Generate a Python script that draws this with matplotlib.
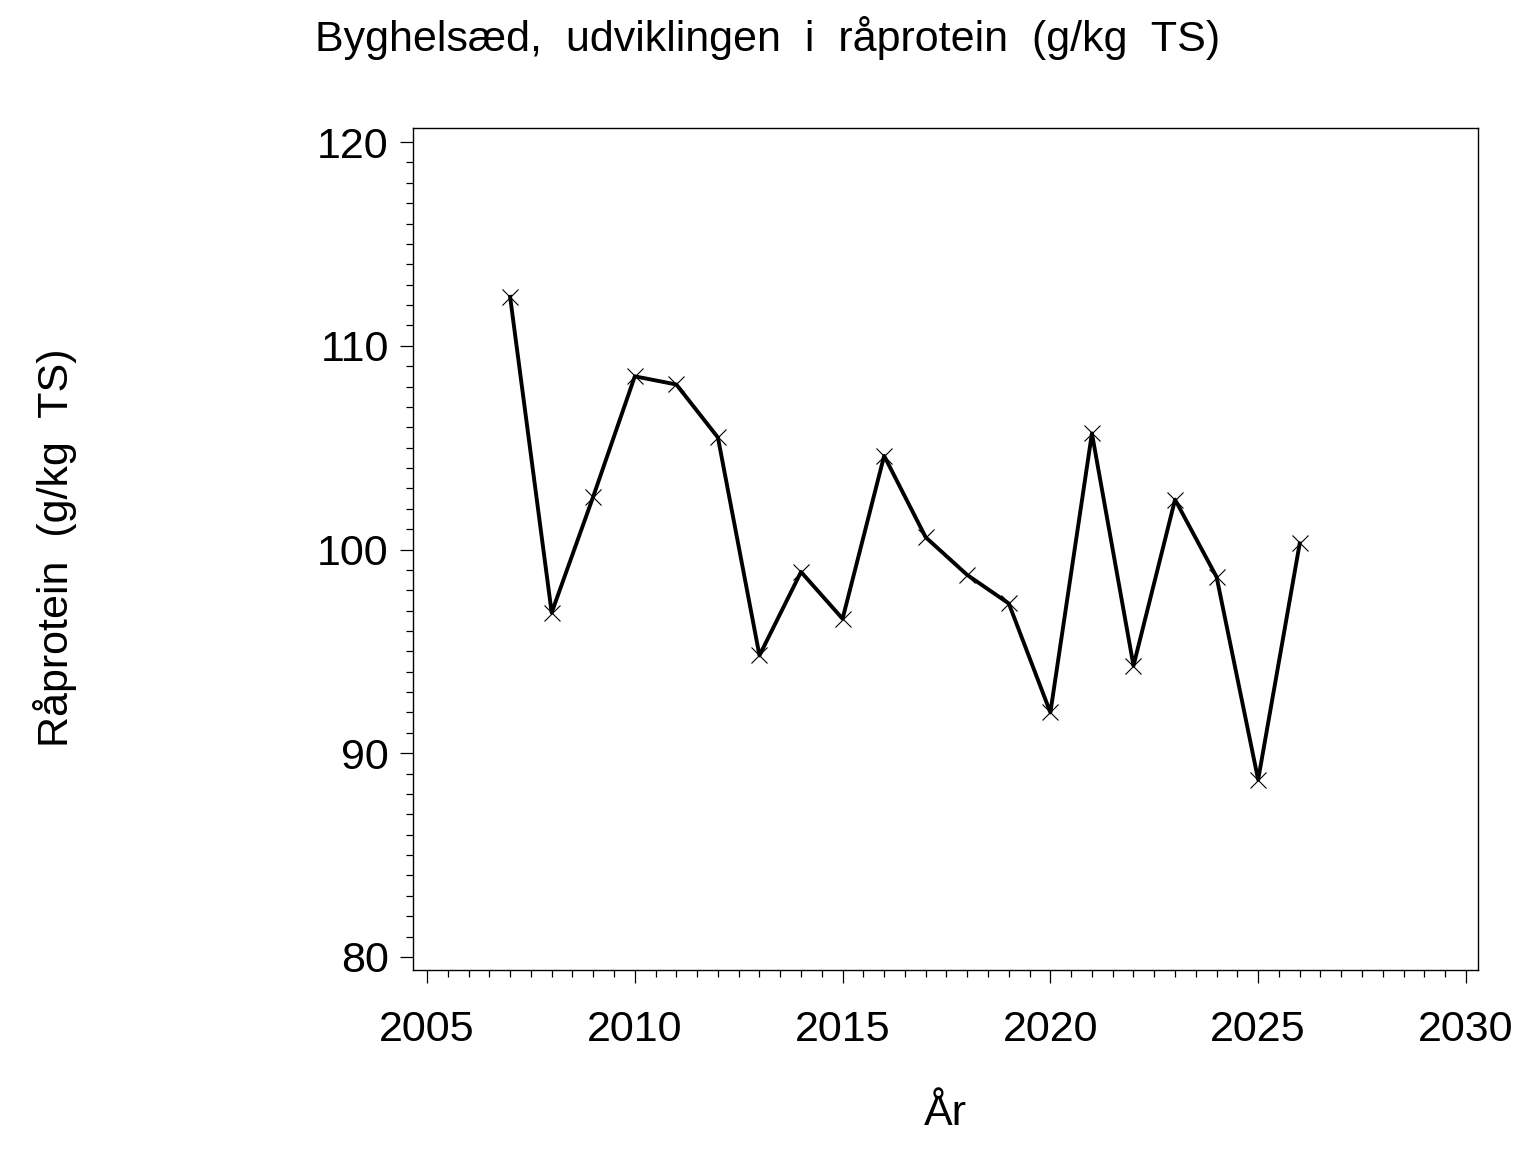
import matplotlib
matplotlib.use('Agg')
import matplotlib.pyplot as plt
from matplotlib.ticker import MultipleLocator

plt.rcParams['font.family'] = ['Liberation Sans', 'DejaVu Sans']

years = [2007, 2008, 2009, 2010, 2011, 2012, 2013, 2014, 2015, 2016,
         2017, 2018, 2019, 2020, 2021, 2022, 2023, 2024, 2025, 2026]
protein = [112.4, 96.9, 102.6, 108.5, 108.1, 105.5, 94.8, 98.9, 96.6, 104.6,
           100.6, 98.75, 97.35, 92.0, 105.7, 94.3, 102.45, 98.65, 88.7, 100.3]

fig = plt.figure(figsize=(15.36, 11.52), dpi=100)
ax = fig.add_axes([413/1536, 1 - 970/1152, (1478-413)/1536, (970-128)/1152])

ax.plot(years, protein, color='black', linewidth=2.8, marker='x',
        markersize=12, markeredgewidth=0.8)

ax.set_xlim(2004.663, 2030.29)
ax.set_ylim(79.36, 120.69)

ax.xaxis.set_major_locator(MultipleLocator(5))
ax.xaxis.set_minor_locator(MultipleLocator(0.5))
ax.yaxis.set_major_locator(MultipleLocator(10))
ax.yaxis.set_minor_locator(MultipleLocator(1))

ax.tick_params(which='both', direction='out', top=False, right=False,
               width=0.9, labelsize=31)
ax.tick_params(which='major', length=9.5)
ax.tick_params(which='minor', length=5)
ax.tick_params(axis='y', which='major', pad=8)
ax.tick_params(axis='x', which='major', pad=19)

for s in ax.spines.values():
    s.set_linewidth(1.0)

ax.set_xlabel('År', fontsize=31, labelpad=32)
fig.text(55/1536, 1 - 548/1152, 'Råprotein  (g/kg  TS)', fontsize=31,
         rotation=90, ha='center', va='center')
fig.text(0.5, 1 - 38/1152, 'Byghelsæd,  udviklingen  i  råprotein  (g/kg  TS)',
         fontsize=31, ha='center', va='center')

fig.savefig('out.png', dpi=100, facecolor='white')
